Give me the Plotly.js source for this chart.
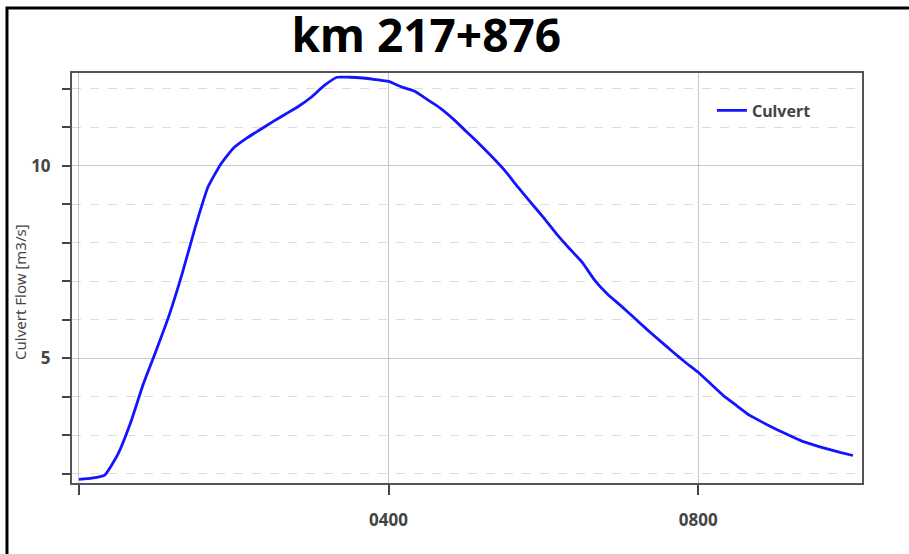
<!DOCTYPE html>
<html>
<head>
<meta charset="utf-8">
<script src="https://cdn.plot.ly/plotly-3.0.1.min.js"></script>
<style>html,body{margin:0;padding:0;background:#fff;}#chart{width:909px;height:554px;}</style>
</head>
<body>
<div id="chart"></div>
<script>
const chartTitle = "km 217+876";
const seriesName = "Culvert";
const yTitle = "Culvert Flow [m3/s]";
const timeMinutes = [0,10,20,30,40,50,60,70,80,90,100,110,120,130,140,150,160,170,180,190,200,210,220,230,240,250,260,270,280,290,300,310,320,330,340,350,360,370,380,390,400,410,420,430,440,450,460,470,480,490,500,510,520,530,540,550,560,570,580,590,600];
const culvertFlow = [1.86,1.89,1.97,2.50,3.33,4.35,5.22,6.13,7.20,8.39,9.45,10.05,10.47,10.72,10.93,11.14,11.34,11.54,11.78,12.08,12.30,12.30,12.28,12.24,12.19,12.05,11.94,11.72,11.50,11.22,10.90,10.58,10.24,9.88,9.46,9.06,8.66,8.24,7.86,7.50,7.02,6.66,6.37,6.07,5.76,5.47,5.18,4.90,4.64,4.33,4.02,3.77,3.52,3.34,3.17,3.01,2.86,2.75,2.65,2.56,2.48];
const xTickVals = [0,240,480];
const xTickText = ["","0400","0800"];

const trace = {
  x: timeMinutes, y: culvertFlow, type: 'scatter', mode: 'lines', name: seriesName,
  line: {color: '#1414ff', width: 2.8, shape: 'spline', smoothing: 0.4}
};

const layout = {
  width: 909, height: 554,
  paper_bgcolor: '#fff', plot_bgcolor: '#fff',
  margin: {l: 72, r: 47, t: 73, b: 71},
  showlegend: true,
  title: {text: chartTitle, x: 0.469, xanchor: 'center', y: 0.935, yanchor: 'middle',
    font: {family: 'Noto Sans, sans-serif', size: 46, color: '#000', weight: 'bold'}},
  font: {family: 'Noto Sans, sans-serif', color: '#444'},
  xaxis: {
    range: [-5.4, 607], tickvals: xTickVals, ticktext: xTickText,
    ticks: 'outside', ticklen: 10, tickwidth: 2, tickcolor: '#444',
    tickfont: {size: 17, color: '#444', weight: 'bold'},
    showgrid: true, gridcolor: '#c4c4c4', gridwidth: 1,
    showline: true, mirror: true, linecolor: '#555', linewidth: 2,
    zeroline: false, ticklabelstandoff: 11
  },
  yaxis: {
    range: [1.766, 12.41], tickvals: [5,10], ticktext: ['5','10'],
    ticks: 'outside', ticklen: 8, tickwidth: 2, tickcolor: '#444',
    tickfont: {size: 17, color: '#444', weight: 'bold'},
    showgrid: true, gridcolor: '#c8c8c8', gridwidth: 1,
    showline: true, mirror: true, linecolor: '#555', linewidth: 2,
    zeroline: false, ticklabelstandoff: 8,
    minor: {dtick: 1, tick0: 0, ticks: 'outside', ticklen: 8, tickwidth: 2, tickcolor: '#444',
      showgrid: true, gridcolor: '#dcdcdc', griddash: 'dash', gridwidth: 1}
  },
  annotations: [{text: yTitle, xref: 'paper', yref: 'paper', x: -0.0658, y: 0.466,
    xanchor: 'center', yanchor: 'middle', textangle: -90, showarrow: false,
    font: {family: 'Noto Sans, sans-serif', size: 15, color: '#444'}}],
  legend: {x: 0.81, y: 0.95, xanchor: 'left', yanchor: 'top', bgcolor: 'rgba(0,0,0,0)',
    font: {size: 16, color: '#444', weight: 'bold'}, itemwidth: 30, tracegroupgap: 0},
  shapes: [{type: 'rect', xref: 'paper', yref: 'paper', x0: -0.0823, x1: 1.3, y0: -0.4, y1: 1.1585,
    line: {color: '#000', width: 3}, fillcolor: 'rgba(0,0,0,0)', layer: 'above'}]
};

Plotly.newPlot('chart', [trace], layout, {displayModeBar: false, staticPlot: true});
</script>
</body>
</html>
